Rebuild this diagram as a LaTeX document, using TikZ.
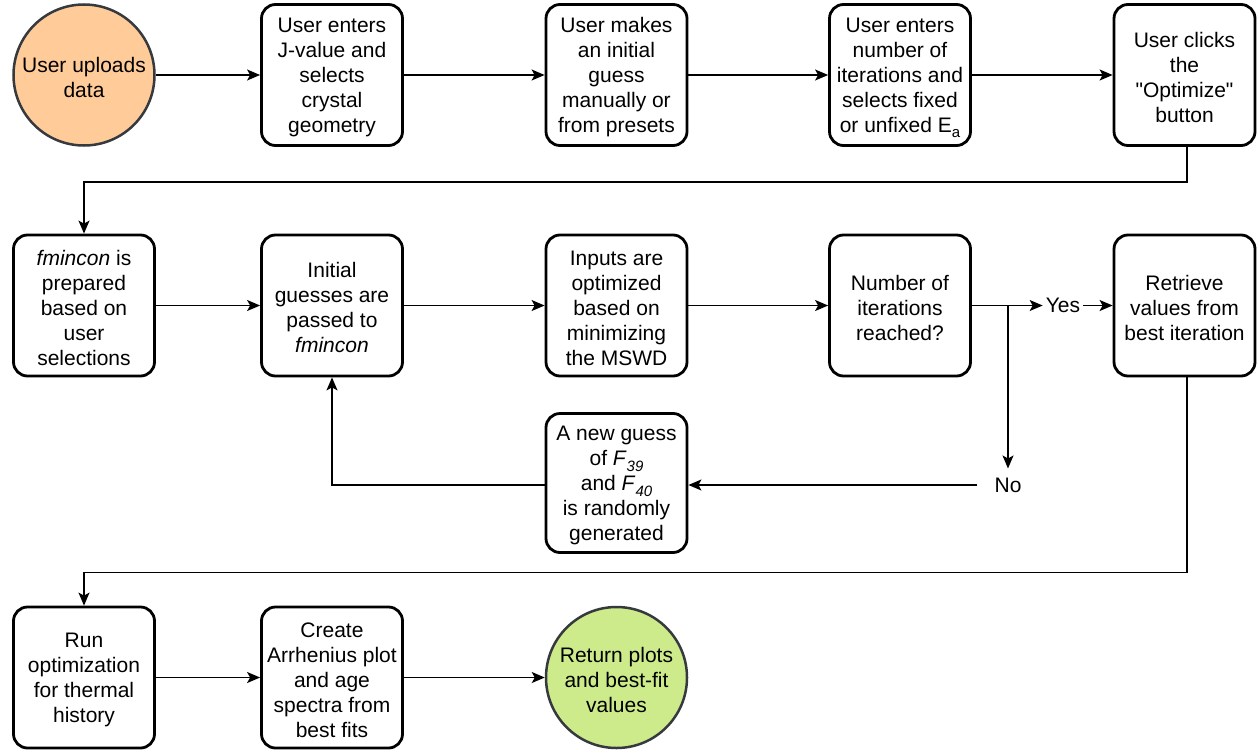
\documentclass[tikz,border=0pt]{standalone}
\usepackage{fontspec}
\setmainfont{Liberation Sans}
\newfontfamily\qfont{Liberation Sans}
\usetikzlibrary{arrows.meta}
\definecolor{cstroke}{HTML}{36393D}
\definecolor{corange}{HTML}{FFCC99}
\definecolor{cgreen}{HTML}{CDEB8B}
\newcommand{\mysub}[1]{\raisebox{-0.5ex}{\fontsize{15}{15}\selectfont #1}}
\newcommand{\mystrut}{\rule{0pt}{20pt}}
\begin{document}
\begin{tikzpicture}[x=1pt,y=-1pt,
  txt/.style={font=\fontsize{21}{25}\selectfont, align=center},
  box/.style={txt, draw, line width=2.8pt, rounded corners=14pt, minimum width=141pt, minimum height=141pt, inner sep=1pt},
  circ/.style={txt, circle, draw=cstroke, line width=2.5pt, minimum size=141pt, inner sep=1pt},
  conn/.style={line width=1.5pt, -{Stealth[length=13pt,width=11pt,inset=3pt]}}]
\useasboundingbox (0,0) rectangle (1257,752);
% row 1
\node[circ, fill=corange] (c1) at (84,75) {\mystrut User uploads\\data};
\node[box] (b2) at (332,75) {\mystrut User enters\\J-value and\\selects\\crystal\\geometry};
\node[box] (b3) at (616.5,75) {\mystrut User makes\\an initial\\guess\\manually or\\from presets};
\node[box] (b4) at (900,75) {\mystrut User enters\\number of\\iterations and\\selects fixed\\or unfixed E\mysub{a}};
\node[box] (b5) at (1184.5,75) {\mystrut User clicks\\the\\{\qfont"}Optimize{\qfont"}\\button};
% row 2
\node[box] (r2a) at (84,305.5) {\mystrut\textit{fmincon} is\\prepared\\based on\\user\\selections};
\node[box] (r2b) at (332,305.5) {\mystrut Initial\\guesses are\\passed to\\\textit{fmincon}};
\node[box] (r2c) at (616.5,305.5) {\mystrut Inputs are\\optimized\\based on\\minimizing\\the MSWD};
\node[box] (num) at (900,305.5) {\mystrut Number of\\iterations\\reached?};
\node[box] (ret) at (1184.5,305.5) {\mystrut Retrieve\\values from\\best iteration};
\node[txt, inner xsep=3pt, inner ysep=2pt] (yes) at (1063,305.5) {Yes};
\coordinate (br) at (1008,305.5);
\node[txt, inner xsep=17pt, inner ysep=9pt] (no) at (1008,485) {No};
% row 3
\node[box, minimum height=139pt] (ng) at (616.5,483) {\mystrut A new guess\\of \textit{F}\mysub{\textit{39}}\\and \textit{F}\mysub{\textit{40}}\\is randomly\\generated};
% row 4
\node[box] (r4a) at (84,677.5) {\mystrut Run\\optimization\\for thermal\\history};
\node[box] (r4b) at (332,677.5) {\mystrut Create\\Arrhenius plot\\and age\\spectra from\\best fits};
\node[circ, fill=cgreen] (c2) at (616.5,677.5) {\mystrut Return plots\\and best-fit\\values};
% connectors
\draw[conn] (c1) -- (b2);
\draw[conn] (b2) -- (b3);
\draw[conn] (b3) -- (b4);
\draw[conn] (b4) -- (b5);
\draw[conn] ([xshift=2.5pt]b5.south) -- ++(0,35) -| (r2a.north);
\draw[conn] (r2a) -- (r2b);
\draw[conn] (r2b) -- (r2c);
\draw[conn] (r2c) -- (num);
\draw[conn] (num.east) -- (num.east -| yes.west);
\draw[conn] (yes.east) -- (yes.east -| ret.west);
\draw[conn] (br) -- (no.north);
\draw[conn] (no.west) -- (no.west -| ng.east);
\draw[conn] (no.west -| ng.west) -| (r2b.south);
\draw[conn] ([xshift=2.5pt]ret.south) -- ++(0,195) -| (r4a.north);
\draw[conn] (r4a) -- (r4b);
\draw[conn] (r4b) -- (c2);
\end{tikzpicture}
\end{document}
